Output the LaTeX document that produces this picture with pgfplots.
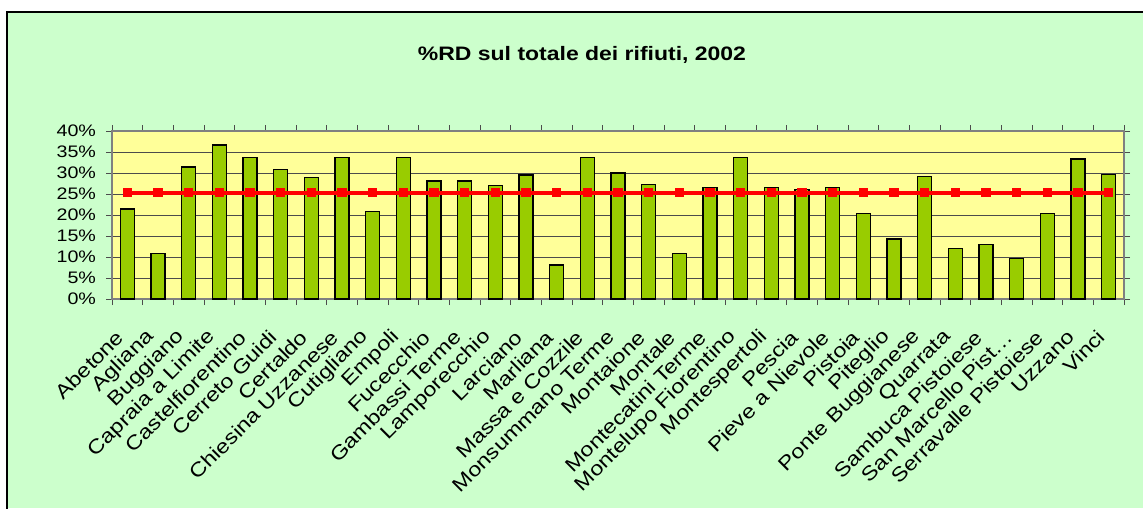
\documentclass[border=0pt]{standalone}
\usepackage{pgfplots}
\pgfplotsset{compat=1.18}
\usepackage{fontspec}
\setmainfont{Liberation Sans}[FakeStretch=1.18]
\definecolor{bgc}{HTML}{CCFFCC}
\definecolor{plotc}{HTML}{FFFF99}
\definecolor{barc}{HTML}{99CC00}
\begin{document}
\begin{tikzpicture}
\path[use as bounding box] (0,0) rectangle (857.25pt,381pt);
\fill[white] (0,0) rectangle (857.25pt,381pt);
\fill[bgc] (5.25pt,0) rectangle (857.25pt,372pt);
\draw[black, line width=0.9pt] (5.25pt,-1pt) -- (5.25pt,372pt) -- (858pt,372pt);
\node[font=\bfseries\fontsize{14.6}{17}\selectfont] at (436.5pt,340pt) {\%RD sul totale dei rifiuti, 2002};
\begin{axis}[
  at={(84pt,156.75pt)}, anchor=south west, scale only axis,
  width=759pt, height=126pt,
  xmin=0.5, xmax=33.5, ymin=0, ymax=40,
  axis background/.style={fill=plotc},
  axis line style={black!50, line width=1.2pt},
  xtick={0.5,1.5,...,33.5}, xticklabels={},
  extra x ticks={1,2,...,33},
  extra x tick labels={Abetone,Agliana,Buggiano,Capraia a Limite,Castelfiorentino,Cerreto Guidi,Certaldo,Chiesina Uzzanese,Cutigliano,Empoli,Fucecchio,Gambassi Terme,Lamporecchio,Larciano,Marliana,Massa e Cozzile,Monsummano Terme,Montaione,Montale,Montecatini Terme,Montelupo Fiorentino,Montespertoli,Pescia,Pieve a Nievole,Pistoia,Piteglio,Ponte Buggianese,Quarrata,Sambuca Pistoiese,San Marcello Pist\ldots,Serravalle Pistoiese,Uzzano,Vinci},
  extra x tick style={tick style={draw=none}},
  ytick={0,5,...,40},
  yticklabels={0\%,5\%,10\%,15\%,20\%,25\%,30\%,35\%,40\%},
  ymajorgrids, grid style={black!70, line width=0.75pt},
  tick align=outside, major tick length=4.5pt,
  tick style={black!70, line width=0.75pt},
  xticklabel style={xshift=-5.25pt, rotate=45, anchor=east, inner sep=0pt, font=\fontsize{14.8}{16}\selectfont},
  xticklabel shift=21.5pt,
  yticklabel style={xshift=-4pt, font=\fontsize{12.5}{14}\selectfont},
]
\addplot[ybar, bar width=10.5pt, fill=barc, draw=black, line width=1pt] coordinates {
(1,21.4) (2,10.9) (3,31.4) (4,36.7) (5,33.7) (6,30.9) (7,29.0) (8,33.7) (9,20.9) (10,33.7)
(11,28.1) (12,28.1) (13,27.1) (14,29.5) (15,8.1) (16,33.7) (17,30.0) (18,27.2) (19,10.9) (20,26.6)
(21,33.7) (22,26.6) (23,26.1) (24,26.6) (25,20.4) (26,14.3) (27,29.1) (28,12.0) (29,12.9) (30,9.6)
(31,20.4) (32,33.3) (33,29.6)};
\addplot[red, line width=3pt, mark=square*, mark size=2pt, mark options={solid}] coordinates {
(1,25.3) (2,25.3) (3,25.3) (4,25.3) (5,25.3) (6,25.3) (7,25.3) (8,25.3) (9,25.3) (10,25.3)
(11,25.3) (12,25.3) (13,25.3) (14,25.3) (15,25.3) (16,25.3) (17,25.3) (18,25.3) (19,25.3) (20,25.3)
(21,25.3) (22,25.3) (23,25.3) (24,25.3) (25,25.3) (26,25.3) (27,25.3) (28,25.3) (29,25.3) (30,25.3)
(31,25.3) (32,25.3) (33,25.3)};
\end{axis}
\end{tikzpicture}
\end{document}
